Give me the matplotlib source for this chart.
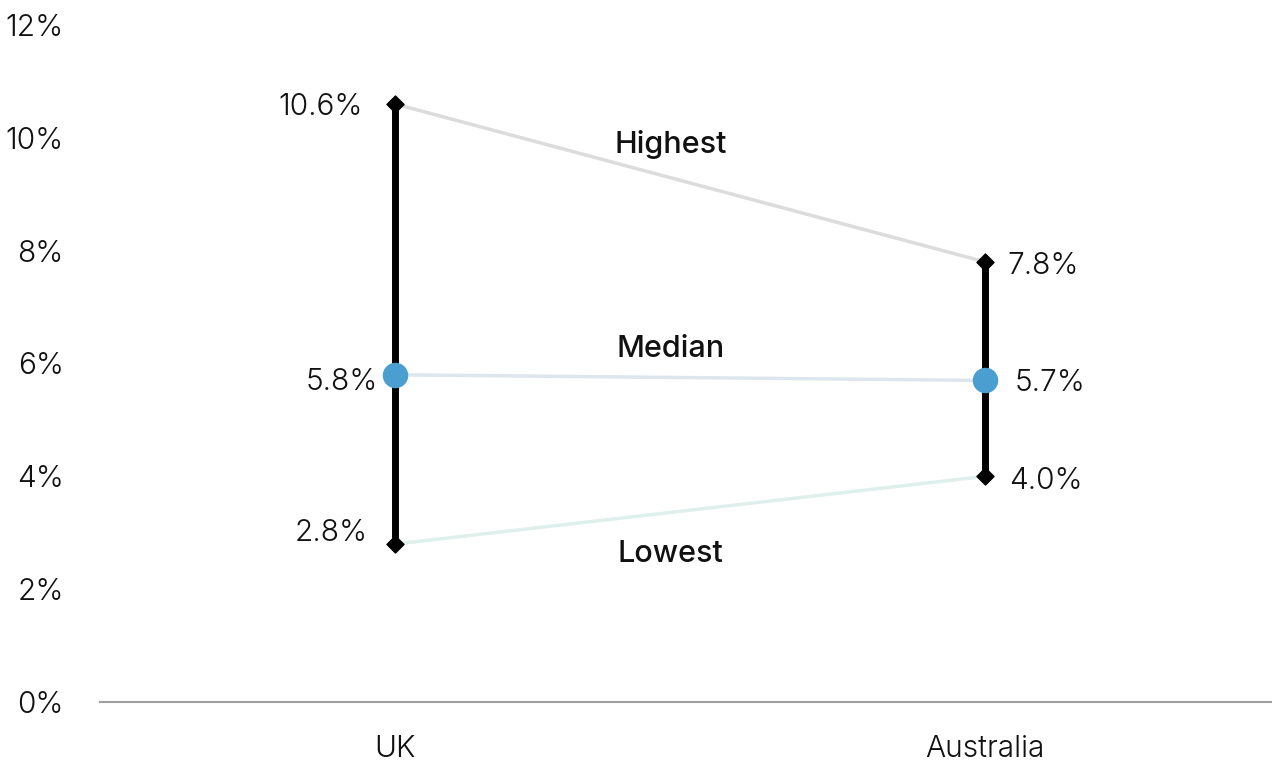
import numpy as np
import matplotlib.pyplot as plt

# Range of rates by country
countries = ["UK", "Australia"]
highest = [10.6, 7.8]
median = [5.8, 5.7]
lowest = [2.8, 4.0]
yticks = [0, 2, 4, 6, 8, 10, 12]

plt.rcParams['font.family'] = ['Inter', 'DejaVu Sans']

fig = plt.figure(figsize=(12.72, 7.62), dpi=100)
ax = fig.add_axes([100/1272, 60/762, 1172/1272, 677/762])

x = np.arange(len(countries))

# connecting lines
ax.plot(x, highest, color="#dcdcdc", lw=2.5, zorder=1)
ax.plot(x, median, color="#dce6ee", lw=2.5, zorder=1)
ax.plot(x, lowest, color="#dff0ec", lw=2.5, zorder=1)

# range bars
ax.vlines(x, lowest, highest, color="black", lw=5, zorder=2)
ax.scatter(x, highest, marker="D", s=75, color="black", zorder=3)
ax.scatter(x, lowest, marker="D", s=75, color="black", zorder=3)
ax.scatter(x, median, marker="o", s=300, color="#4a9fd0", zorder=4)

fs = 21.5
txt = dict(fontsize=fs, fontweight=300, color="#111111", va="center")
# value labels, offsets in points
ax.annotate(f"{highest[0]:.1f}%", (0, highest[0]), xytext=(-23, -2),
            textcoords="offset points", ha="right", **txt)
ax.annotate(f"{median[0]:.1f}%", (0, median[0]), xytext=(-12, -5),
            textcoords="offset points", ha="right", **txt)
ax.annotate(f"{lowest[0]:.1f}%", (0, lowest[0]), xytext=(-20, 8),
            textcoords="offset points", ha="right", **txt)
ax.annotate(f"{highest[1]:.1f}%", (1, highest[1]), xytext=(16, -3),
            textcoords="offset points", ha="left", **txt)
ax.annotate(f"{median[1]:.1f}%", (1, median[1]), xytext=(21, -2),
            textcoords="offset points", ha="left", **txt)
ax.annotate(f"{lowest[1]:.1f}%", (1, lowest[1]), xytext=(17, -3),
            textcoords="offset points", ha="left", **txt)

mid = 0.467
bold = dict(ha="center", va="center", fontsize=22, fontweight=500, color="#111111")
ax.text(mid, 9.88, "Highest", **bold)
ax.text(mid, 6.25, "Median", **bold)
ax.text(mid, 2.62, "Lowest", **bold)

ax.set_xlim(-0.5, 1.486)
ax.set_ylim(0, 12)
ax.set_yticks(yticks)
ax.set_yticklabels([f"{t}%" for t in yticks])
ax.set_xticks(x)
ax.set_xticklabels(countries)
ax.tick_params(axis="both", length=0, labelsize=fs, labelcolor="#111111")
ax.tick_params(axis="y", pad=26)
ax.tick_params(axis="x", pad=24)
for lbl in ax.get_yticklabels() + ax.get_xticklabels():
    lbl.set_fontweight(300)

for s in ["top", "right", "left"]:
    ax.spines[s].set_visible(False)
ax.spines["bottom"].set_color("#a0a0a0")
ax.spines["bottom"].set_linewidth(1.5)
ax.patch.set_alpha(0)

fig.savefig("out.png", dpi=100)
